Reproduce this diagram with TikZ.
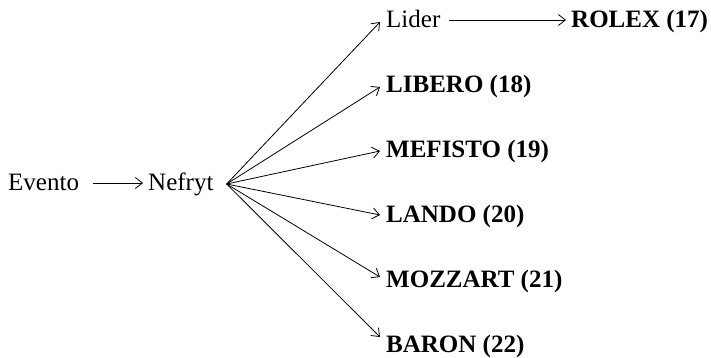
\documentclass[tikz,border=0pt]{standalone}
\usepackage{fontspec}
\setmainfont{Liberation Serif}
\usetikzlibrary{arrows.meta}
\begin{document}
\begin{tikzpicture}[x=1pt,y=1pt,
  lbl/.style={anchor=base west,inner sep=0pt,font=\fontsize{25}{30}\selectfont},
  blbl/.style={lbl,font=\fontsize{25}{30}\selectfont\bfseries},
  arr/.style={line width=0.8pt,-{Straight Barb[length=7pt,width=11pt,line width=0.8pt]}}]
\useasboundingbox (0,0) rectangle (711,358);
\node[lbl] (evento) at (8,167) {Evento};
\node[lbl] (nefryt) at (148,167) {Nefryt};
\node[lbl] (lider) at (386,330) {Lider};
\node[blbl] (rolex) at (571,330) {ROLEX (17)};
\node[blbl] (libero) at (386,265) {LIBERO (18)};
\node[blbl] (mefisto) at (386,200) {MEFISTO (19)};
\node[blbl] (lando) at (386,135) {LANDO (20)};
\node[blbl] (mozzart) at (386,70) {MOZZART (21)};
\node[blbl] (baron) at (386,5) {BARON (22)};
\draw[arr] ([shift={(14pt,8pt)}]evento.base east) -- ([shift={(-5pt,8pt)}]nefryt.base west);
\draw[arr] ([shift={(8pt,8pt)}]lider.base east) -- ([shift={(-5pt,8pt)}]rolex.base west);
\coordinate (fan) at ([shift={(13pt,7pt)}]nefryt.base east);
\draw[arr] (fan) -- ([shift={(-6pt,6pt)}]lider.base west);
\draw[arr] (fan) -- ([shift={(-6pt,6pt)}]libero.base west);
\draw[arr] (fan) -- ([shift={(-6pt,7pt)}]mefisto.base west);
\draw[arr] (fan) -- ([shift={(-6pt,8pt)}]lando.base west);
\draw[arr] (fan) -- ([shift={(-6pt,11pt)}]mozzart.base west);
\draw[arr] (fan) -- ([shift={(-6pt,16pt)}]baron.base west);
\end{tikzpicture}
\end{document}
